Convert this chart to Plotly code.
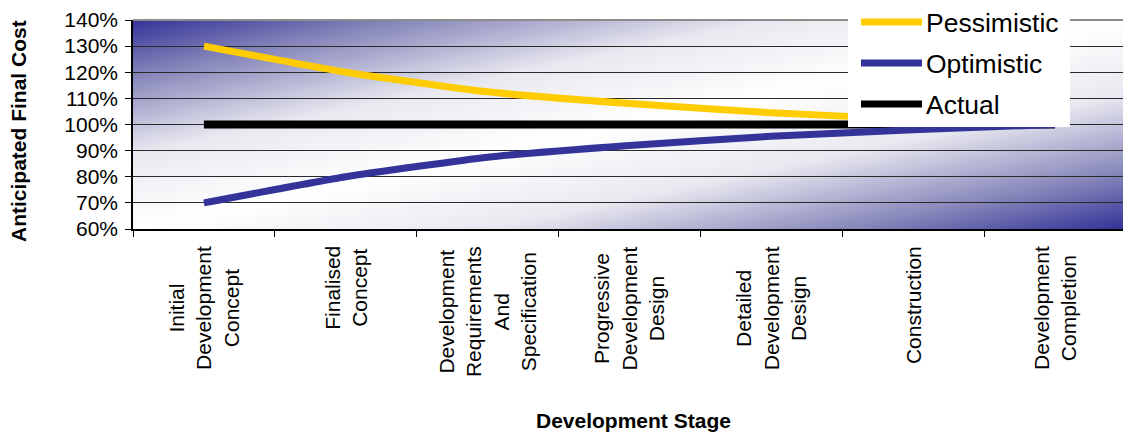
import base64
import plotly.graph_objects as go

# Development stages (category axis)
stages = [
    "Initial Development Concept",
    "Finalised Concept",
    "Development Requirements And Specification",
    "Progressive Development Design",
    "Detailed Development Design",
    "Construction",
    "Development Completion",
]
# Wrapped versions of the stage names for the rotated axis labels
stage_labels = [
    "Initial<br>Development<br>Concept",
    "Finalised<br>Concept",
    "Development<br>Requirements<br>And<br>Specification",
    "Progressive<br>Development<br>Design",
    "Detailed<br>Development<br>Design",
    "Construction",
    "Development<br>Completion",
]

# Anticipated final cost, % of budget
pessimistic = [130, 120, 112.5, 108, 104.5, 102, 100]
optimistic = [70, 80, 87.5, 92, 95.5, 98, 100]
actual = [100, 100, 100, 100, 100, 100, 100]

series_names = ["Pessimistic", "Optimistic", "Actual"]
series_colors = ["#FFCC00", "#333399", "#000000"]

y_ticks = [60, 70, 80, 90, 100, 110, 120, 130, 140]
y_tick_text = ["60%", "70%", "80%", "90%", "100%", "110%", "120%", "130%", "140%"]

FONT = "Liberation Sans, Arial, sans-serif"
W, H = 1123, 434
M_L, M_R, M_T, M_B = 133, 0, 20, 205
PW, PH = W - M_L - M_R, H - M_T - M_B

fig = go.Figure()

# Actual first so the converging optimistic line stays visible at the end
fig.add_trace(go.Scatter(x=stages, y=actual, name="Actual", mode="lines",
                         line=dict(color=series_colors[2], width=8),
                         showlegend=False, hoverinfo="skip"))
fig.add_trace(go.Scatter(x=stages, y=pessimistic, name="Pessimistic", mode="lines",
                         line=dict(color=series_colors[0], width=7, shape="spline", smoothing=0.45),
                         showlegend=False))
fig.add_trace(go.Scatter(x=stages, y=optimistic, name="Optimistic", mode="lines",
                         line=dict(color=series_colors[1], width=7, shape="spline", smoothing=0.45),
                         showlegend=False))

# Diagonal two-tone gradient fill for the plot area
svg = (
    f'<svg xmlns="http://www.w3.org/2000/svg" width="{PW}" height="{PH}" '
    f'viewBox="0 0 {PW} {PH}" preserveAspectRatio="none">'
    '<defs><linearGradient id="g" x1="0" y1="0" x2="1" y2="1">'
    '<stop offset="0" stop-color="#333399"/>'
    '<stop offset="0.13" stop-color="#8282b8"/>'
    '<stop offset="0.32" stop-color="#e8e8f0"/>'
    '<stop offset="0.5" stop-color="#ffffff"/>'
    '<stop offset="0.68" stop-color="#e8e8f0"/>'
    '<stop offset="0.87" stop-color="#8282b8"/>'
    '<stop offset="1" stop-color="#333399"/>'
    '</linearGradient></defs>'
    f'<rect width="{PW}" height="{PH}" fill="url(#g)"/></svg>'
)
bg_src = "data:image/svg+xml;base64," + base64.b64encode(svg.encode()).decode()
fig.add_layout_image(dict(source=bg_src, xref="paper", yref="paper", x=0, y=1,
                          sizex=1, sizey=1, xanchor="left", yanchor="top",
                          sizing="stretch", layer="below"))


def px_x(px):
    return (px - M_L) / PW


def px_y(py):
    return (M_T + PH - py) / PH


# Rotated, centred stage labels under each category
for stage, label in zip(stages, stage_labels):
    fig.add_annotation(x=stage, xref="x", y=px_y(244), yref="paper",
                       text=label, textangle=-90, align="center",
                       xanchor="center", yanchor="top", showarrow=False,
                       font=dict(family=FONT, size=21, color="black"))

# Axis titles
fig.add_annotation(x=px_x(18), y=px_y(131), xref="paper", yref="paper",
                   text="<b>Anticipated Final Cost</b>", textangle=-90,
                   showarrow=False, xanchor="center", yanchor="middle",
                   font=dict(family=FONT, size=21, color="black"))
fig.add_annotation(x=px_x(633), y=px_y(420), xref="paper", yref="paper",
                   text="<b>Development Stage</b>",
                   showarrow=False, xanchor="center", yanchor="middle",
                   font=dict(family=FONT, size=21, color="black"))

# Grey frame line along the top of the plot area
fig.add_shape(type="line", xref="paper", yref="paper", x0=0, x1=1, y0=1, y1=1,
              line=dict(color="#8c8c8c", width=2), layer="above")

# Legend box
fig.add_shape(type="rect", xref="paper", yref="paper",
              x0=px_x(848), x1=px_x(1070), y0=px_y(127), y1=px_y(-2),
              fillcolor="white", line=dict(width=0), layer="above")
legend_rows = [22, 63, 104]
for name, color, row in zip(series_names, series_colors, legend_rows):
    fig.add_shape(type="line", xref="paper", yref="paper",
                  x0=px_x(861), x1=px_x(922), y0=px_y(row), y1=px_y(row),
                  line=dict(color=color, width=7), layer="above")
    fig.add_annotation(x=px_x(924), y=px_y(row + 1), xref="paper", yref="paper",
                       text=name, showarrow=False, xanchor="left", yanchor="middle",
                       font=dict(family=FONT, size=26.5, color="black"))

fig.update_layout(
    width=W, height=H,
    margin=dict(l=M_L, r=M_R, t=M_T, b=M_B),
    paper_bgcolor="white",
    plot_bgcolor="rgba(0,0,0,0)",
    showlegend=False,
    font=dict(family=FONT, color="black"),
    xaxis=dict(type="category", categoryorder="array", categoryarray=stages,
               range=[-0.5, 6.48], showticklabels=False,
               tickson="boundaries", ticks="outside", ticklen=6, tickcolor="black",
               showgrid=False, showline=True, linecolor="black", linewidth=1.5,
               zeroline=False, fixedrange=True),
    yaxis=dict(range=[60, 140], tickmode="array", tickvals=y_ticks, ticktext=y_tick_text,
               ticks="outside", ticklen=6, tickcolor="black", ticklabelstandoff=3,
               tickfont=dict(family=FONT, size=21, color="black"),
               showgrid=True, gridcolor="#2a2a2a", gridwidth=1,
               showline=True, linecolor="black", linewidth=1.5,
               zeroline=False, fixedrange=True),
)

fig.write_html("out.html")
